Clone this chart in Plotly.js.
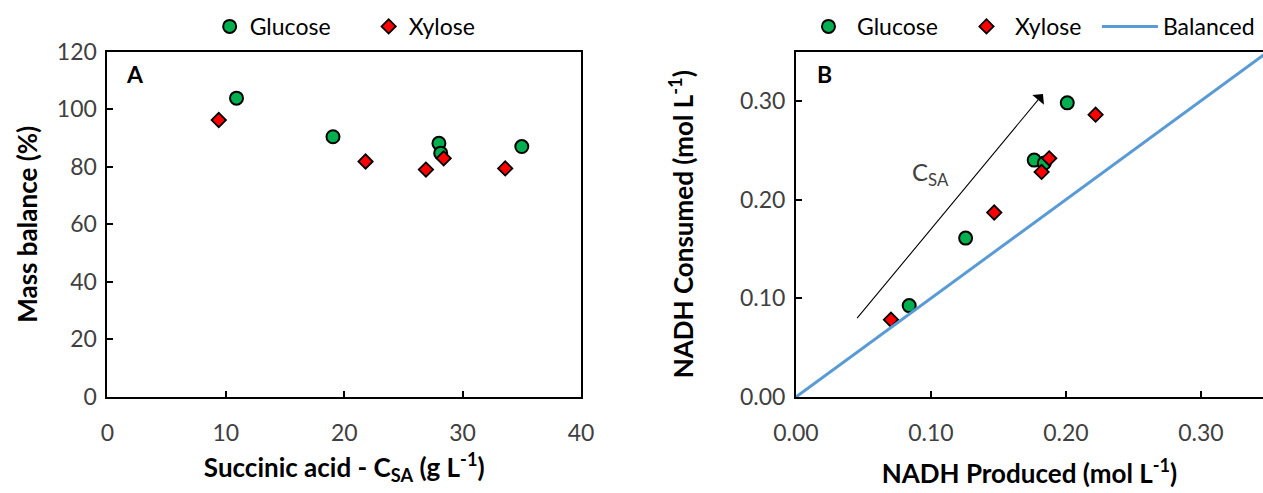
<!DOCTYPE html>
<html>
<head>
<meta charset="utf-8">
<script src="https://cdn.plot.ly/plotly-3.0.1.min.js"></script>
<style>html,body{margin:0;padding:0;background:#fff}#chart{width:1263px;height:493px}</style>
</head>
<body>
<div id="chart"></div>
<script>
// Panel A: mass balance vs succinic acid titre
const glucoseCSA = [10.9, 19.05, 28.0, 28.15, 35.0];
const glucoseMassBalance = [103.8, 90.4, 88.1, 84.7, 87.0];
const xyloseCSA = [9.4, 21.8, 26.9, 28.4, 33.6];
const xyloseMassBalance = [96.2, 81.8, 79.0, 82.9, 79.4];

// Panel B: NADH balance
const glucoseNADHProduced = [0.0839, 0.1257, 0.1765, 0.184, 0.201];
const glucoseNADHConsumed = [0.0926, 0.161, 0.240, 0.237, 0.298];
const xyloseNADHProduced = [0.0704, 0.1469, 0.182, 0.1876, 0.222];
const xyloseNADHConsumed = [0.0783, 0.1869, 0.228, 0.2418, 0.286];
const balancedX = [0, 0.35];
const balancedY = [0, 0.35];

const FONT = 'Lato, "Open Sans", sans-serif';
const GREEN = '#00B050', RED = '#FF0000', BLUE = '#5B9BD5';

const circ = {symbol: 'circle', size: 13, color: GREEN, line: {color: '#000', width: 2}};
const diam = {symbol: 'diamond', size: 11, color: RED, line: {color: '#000', width: 1.8}};

const traces = [
  {x: glucoseCSA, y: glucoseMassBalance, name: 'Glucose', mode: 'markers', marker: circ, xaxis: 'x', yaxis: 'y', legend: 'legend'},
  {x: xyloseCSA, y: xyloseMassBalance, name: 'Xylose', mode: 'markers', marker: diam, xaxis: 'x', yaxis: 'y', legend: 'legend'},
  {x: glucoseNADHProduced, y: glucoseNADHConsumed, name: 'Glucose', mode: 'markers', marker: circ, xaxis: 'x2', yaxis: 'y2', legend: 'legend2'},
  {x: xyloseNADHProduced, y: xyloseNADHConsumed, name: 'Xylose', mode: 'markers', marker: diam, xaxis: 'x2', yaxis: 'y2', legend: 'legend3'},
  {x: balancedX, y: balancedY, name: 'Balanced', mode: 'lines', line: {color: BLUE, width: 3}, xaxis: 'x2', yaxis: 'y2', legend: 'legend4'}
];

const tickFont = {family: FONT, size: 23, color: '#404040'};
const titleFont = {family: FONT, size: 26, color: '#000', weight: 'bold'};
const axBase = {
  showgrid: false, zeroline: false, showline: true, linecolor: '#000', linewidth: 2,
  ticks: 'inside', ticklen: 6, tickwidth: 2, tickcolor: '#000', tickfont: tickFont, automargin: false
};
const xBase = Object.assign({}, axBase, {ticklabelstandoff: 14});
const yBase = Object.assign({}, axBase, {ticklabelstandoff: 4});

const legFont = {family: FONT, size: 23, color: '#000'};
const legBase = {orientation: 'h', xanchor: 'left', y: 0.99, yanchor: 'top', font: legFont, bgcolor: 'rgba(0,0,0,0)'};

const layout = {
  width: 1263, height: 493,
  margin: {l: 0, r: 0, t: 0, b: 0, autoexpand: false},
  paper_bgcolor: '#fff', plot_bgcolor: '#fff',
  font: {family: FONT},
  xaxis: Object.assign({}, xBase, {domain: [0.0851, 0.4600], range: [0, 40], dtick: 10, mirror: true,
    title: {text: '<b>Succinic acid - C<sub>SA</sub> (g L<sup>-1</sup>)</b>', font: titleFont, standoff: 14}}),
  yaxis: Object.assign({}, yBase, {domain: [0.1947, 0.8955], range: [0, 120], dtick: 20, mirror: true,
    title: {text: '<b>Mass balance (%)</b>', font: titleFont, standoff: 12}}),
  xaxis2: Object.assign({}, xBase, {anchor: 'y2', domain: [0.6302, 1], range: [0, 0.346], dtick: 0.1, tickformat: '.2f', mirror: true,
    title: {text: '<b>NADH Produced (mol L<sup>-1</sup>)</b>', font: titleFont, standoff: 20}}),
  yaxis2: Object.assign({}, yBase, {anchor: 'x2', domain: [0.1947, 0.8955], range: [0, 0.35], dtick: 0.1, tickformat: '.2f',
    title: {text: '<b>NADH Consumed (mol L<sup>-1</sup>)</b>', font: titleFont, standoff: 39}}),
  showlegend: true,
  legend: Object.assign({}, legBase, {x: 0.166, entrywidth: 114, entrywidthmode: 'pixels'}),
  legend2: Object.assign({}, legBase, {x: 0.6334, itemwidth: 47}),
  legend3: Object.assign({}, legBase, {x: 0.7585, itemwidth: 47}),
  legend4: Object.assign({}, legBase, {x: 0.8685, itemwidth: 56}),
  annotations: [
    {xref: 'x domain', yref: 'y domain', x: 0.035, y: 0.935, text: '<b>A</b>', showarrow: false,
      xanchor: 'left', yanchor: 'middle', font: {family: FONT, size: 23, color: '#000'}},
    {xref: 'x2 domain', yref: 'y2 domain', x: 0.04, y: 0.935, text: '<b>B</b>', showarrow: false,
      xanchor: 'left', yanchor: 'middle', font: {family: FONT, size: 23, color: '#000'}},
    {xref: 'x2', yref: 'y2', x: 0.183, y: 0.307, ax: 0.0444, ay: 0.0783, axref: 'x2', ayref: 'y2',
      text: '', showarrow: true, arrowhead: 1, arrowsize: 2.3, arrowwidth: 1.1, arrowcolor: '#000'},
    {xref: 'x2', yref: 'y2', x: 0.1, y: 0.226, text: 'C<sub>SA</sub>', showarrow: false,
      font: {family: FONT, size: 24, color: '#404040'}}
  ]
};

Plotly.newPlot('chart', traces, layout, {displayModeBar: false, staticPlot: true});
</script>
</body>
</html>
